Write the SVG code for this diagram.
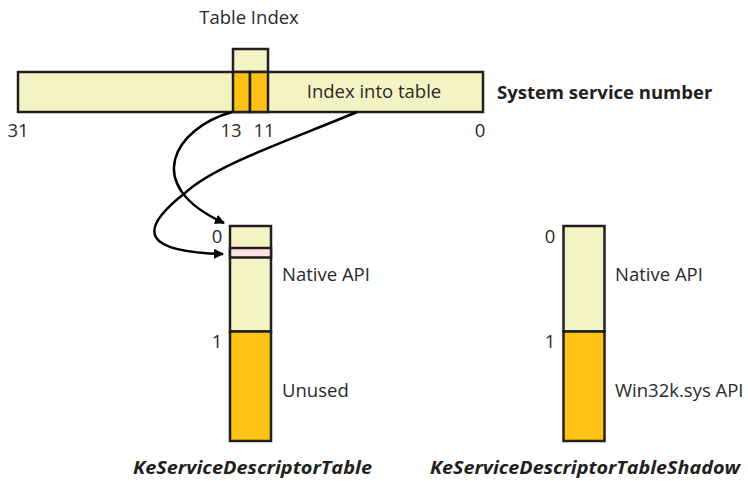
<svg xmlns="http://www.w3.org/2000/svg" width="748" height="481" viewBox="0 0 748 481">
<style>
.lt{fill:#F4F3C3;stroke:#231F20;stroke-width:2.5}
.or{fill:#FDC213;stroke:#231F20;stroke-width:2.5}
.pk{fill:#FCE3E3;stroke:#231F20;stroke-width:2.5}
.t{font-family:"Open Sans","Noto Sans","Liberation Sans",sans-serif;font-size:18.5px;fill:#2a2a2a}
.b{font-family:"Open Sans","Noto Sans","Liberation Sans",sans-serif;font-size:18.5px;font-weight:bold;fill:#231F20}
.bi{font-family:"Open Sans","Noto Sans","Liberation Sans",sans-serif;font-size:18.5px;font-weight:bold;font-style:italic;fill:#231F20}
.c{fill:none;stroke:#000;stroke-width:2.5}
</style>
<defs>
<marker id="ah" viewBox="0 0 10 10" refX="9" refY="5" markerWidth="4" markerHeight="4" orient="auto" markerUnits="strokeWidth">
<path d="M0,0 L10,5 L0,10 z" fill="#000"/>
</marker>
</defs>
<g id="system-service-number">
<rect class="lt" x="18" y="72" width="465" height="40"/>
<rect class="lt" x="233" y="49" width="35" height="23"/>
<rect class="or" x="233" y="72" width="17" height="40"/>
<rect class="or" x="250" y="72" width="18" height="40"/>
<text class="t" x="249" y="24" text-anchor="middle">Table Index</text>
<text class="t" x="374" y="98" text-anchor="middle">Index into table</text>
<text class="b" x="497" y="99">System service number</text>
<text class="t" x="18" y="137" text-anchor="middle">31</text>
<text class="t" x="231" y="137" text-anchor="middle">13</text>
<text class="t" x="264" y="137" text-anchor="middle">11</text>
<text class="t" x="480" y="137" text-anchor="middle">0</text>
</g>
<g id="KeServiceDescriptorTable">
<rect class="lt" x="230" y="226" width="41" height="105.5"/>
<rect class="pk" x="230" y="248" width="41" height="9.5"/>
<rect class="or" x="230" y="331.5" width="41" height="109.5"/>
<text class="t" x="217" y="243" text-anchor="middle">0</text>
<text class="t" x="217" y="348" text-anchor="middle">1</text>
<text class="t" x="282" y="281">Native API</text>
<text class="t" x="282" y="397">Unused</text>
<text class="bi" x="133" y="474" textLength="239" lengthAdjust="spacingAndGlyphs">KeServiceDescriptorTable</text>
</g>
<g id="KeServiceDescriptorTableShadow">
<rect class="lt" x="563.5" y="226" width="41" height="105.5"/>
<rect class="or" x="563.5" y="331.5" width="41" height="109.5"/>
<text class="t" x="550" y="243" text-anchor="middle">0</text>
<text class="t" x="550" y="348" text-anchor="middle">1</text>
<text class="t" x="615" y="281">Native API</text>
<text class="t" x="615" y="397">Win32k.sys API</text>
<text class="bi" x="430" y="474" textLength="310" lengthAdjust="spacingAndGlyphs">KeServiceDescriptorTableShadow</text>
</g>
<g id="connectors">
<path class="c" d="M232,112 C175,128 140,185 224,223" marker-end="url(#ah)"/>
<path class="c" d="M357,112 C290,140 215,165 185,193 C135,232 145,252 223,254" marker-end="url(#ah)"/>
</g>
</svg>
